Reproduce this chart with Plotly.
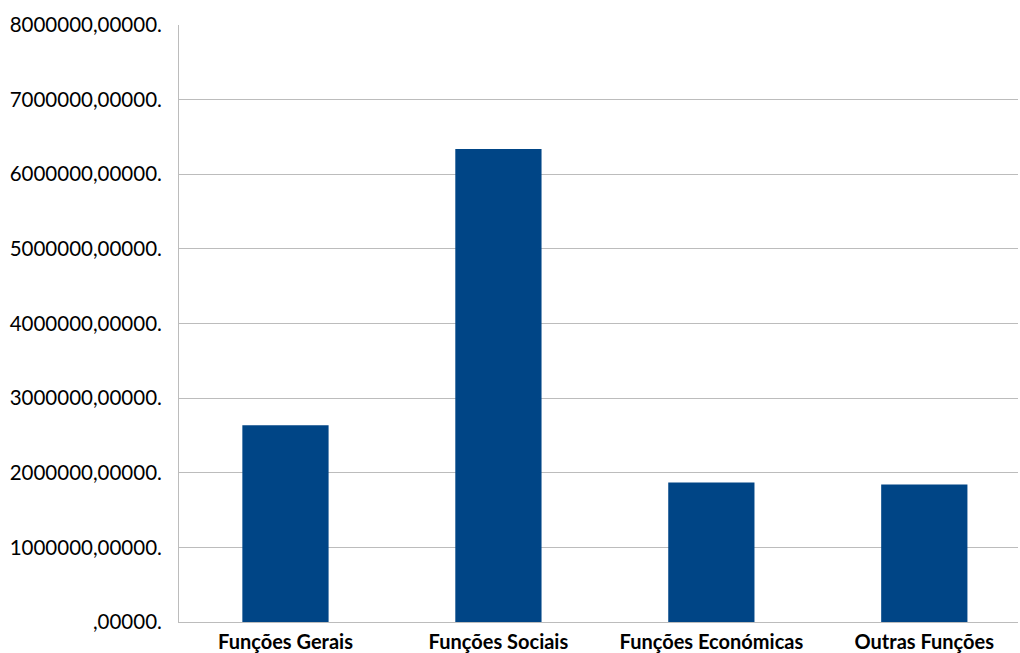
import plotly.graph_objects as go

categories = ["Funções Gerais", "Funções Sociais", "Funções Económicas", "Outras Funções"]
values = [2635000, 6340000, 1870000, 1843000]
tick_values = [0, 1000000, 2000000, 3000000, 4000000, 5000000, 6000000, 7000000, 8000000]
tick_labels = [",00000.", "1000000,00000.", "2000000,00000.", "3000000,00000.", "4000000,00000.",
               "5000000,00000.", "6000000,00000.", "7000000,00000.", "8000000,00000."]

fig = go.Figure(go.Bar(
    x=list(range(len(categories))),
    y=values,
    width=0.405,
    marker=dict(color="#004586", line=dict(width=0)),
))

fig.update_layout(
    width=1020, height=653,
    margin=dict(l=179, r=2, t=25, b=31, pad=0),
    paper_bgcolor="white", plot_bgcolor="white",
    showlegend=False,
    font=dict(family="Lato", color="#000000"),
)
fig.update_xaxes(
    range=[-0.5, 3.44],
    tickvals=list(range(len(categories))),
    ticktext=categories,
    tickfont=dict(family="Lato", size=20, color="#000000", weight="bold"),
    showgrid=False, zeroline=False,
    showline=True, linecolor="#bcbcbc", linewidth=1,
    ticks="", ticklabelstandoff=2, automargin=False,
)
fig.update_yaxes(
    range=[0, 8000000],
    tickvals=tick_values, ticktext=tick_labels,
    tickfont=dict(family="Lato", size=20.5, color="#000000"),
    showgrid=True, gridcolor="#bcbcbc", gridwidth=1,
    zeroline=False,
    showline=True, linecolor="#bcbcbc", linewidth=1,
    ticks="", ticklabelstandoff=12, automargin=False,
)

fig.write_html("out.html")
